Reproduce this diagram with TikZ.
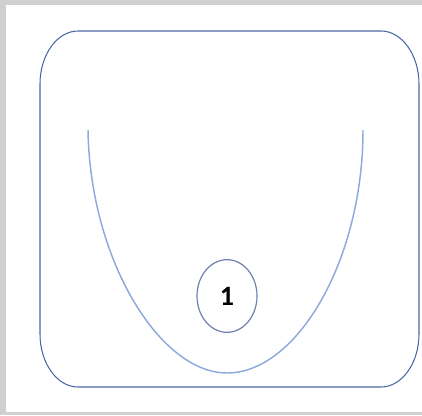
\documentclass[tikz,border=0pt]{standalone}
\usepackage{fontspec}
\setmainfont{Carlito}
\usetikzlibrary{shapes.geometric}
\definecolor{framegray}{HTML}{D0D0D0}
\definecolor{boxblue}{HTML}{4A68A6}
\definecolor{curveblue}{HTML}{8EAADC}
\definecolor{ellblue}{HTML}{7080AE}
\tikzset{
  boxline/.style={draw=boxblue, line width=0.8pt},
  uline/.style={draw=curveblue, line width=1.1pt},
  numell/.style={ellipse, draw=ellblue, line width=0.9pt, inner sep=0pt,
    minimum width=45pt, minimum height=54.5pt,
    font=\bfseries\fontsize{21}{21}\selectfont}
}
\begin{document}
\begin{tikzpicture}[x=0.75pt,y=-0.75pt]
\useasboundingbox (0,0) rectangle (422,415);
\fill[framegray] (0,0) rectangle (422,5);
\fill[framegray] (0,0) rectangle (6,415);
\fill[framegray] (0,412) rectangle (422,415);
\draw[boxline] (78,31) -- (381,31) .. controls (402,31) and (419,55) .. (419,84)
  -- (419,334) .. controls (419,363) and (402,387) .. (381,387)
  -- (78,387) .. controls (57,387) and (40,363) .. (40,334)
  -- (40,84) .. controls (40,55) and (57,31) .. cycle;
\coordinate (ul) at (88,130);
\coordinate (ub) at (227,373);
\coordinate (ur) at (363,130);
\draw[uline] (ul) .. controls (90,260) and (160,373) .. (ub)
  .. controls (297,373) and (363,260) .. (ur);
\node[numell] (one) at (227,296) {1};
\end{tikzpicture}
\end{document}
